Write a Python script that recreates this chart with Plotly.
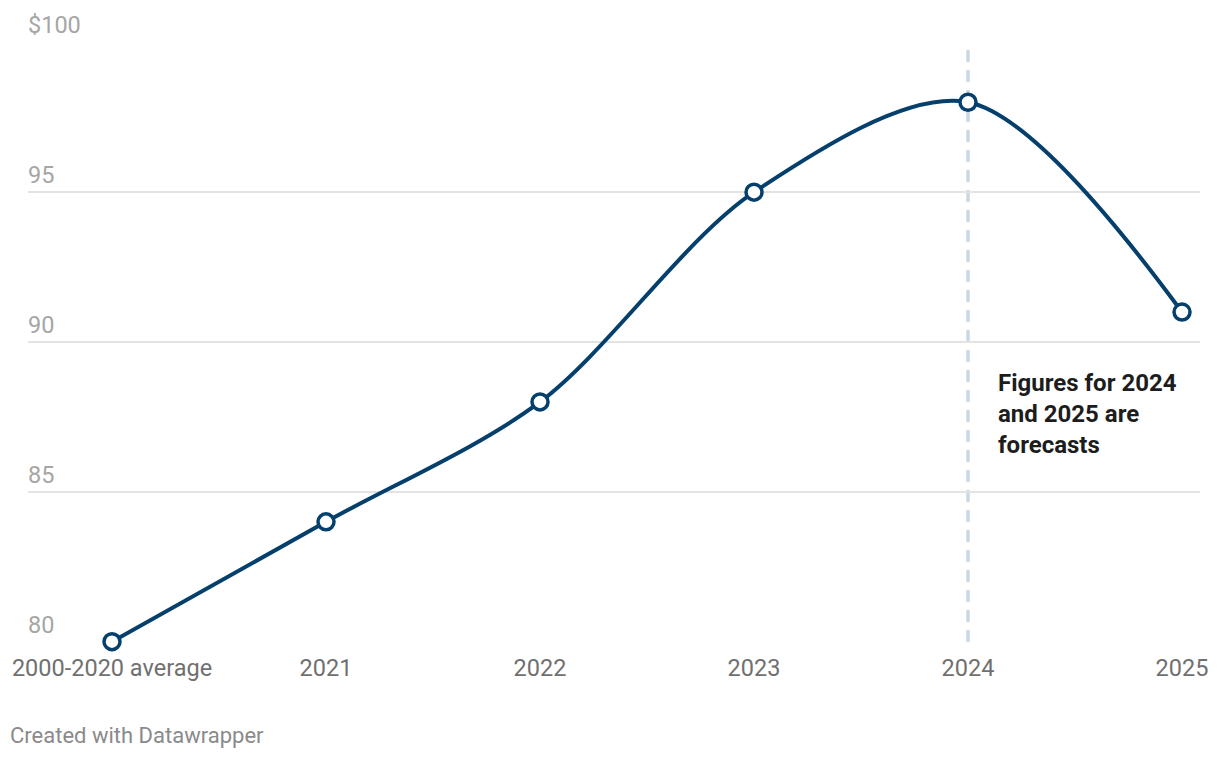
import plotly.graph_objects as go

categories = ["2000-2020 average", "2021", "2022", "2023", "2024", "2025"]
values = [80, 84, 88, 95, 98, 91]
y_ticks = [80, 85, 90, 95, 100]
y_tick_labels = ["80", "85", "90", "95", "$100"]

xs = list(range(len(categories)))

fig = go.Figure()

fig.add_trace(go.Scatter(
    x=xs, y=values,
    mode="lines+markers",
    line=dict(color="#053f6c", width=4, shape="spline", smoothing=0.9),
    marker=dict(size=16, color="white", line=dict(color="#053f6c", width=3.5)),
    cliponaxis=False,
    hoverinfo="skip",
))

# forecast divider
fig.add_shape(type="line", xref="x", yref="paper", x0=4, x1=4, y0=0, y1=1,
              line=dict(color="#c9d8e3", width=3.5, dash="12px,8px"), layer="below")

annotations = []
for v, t in zip(y_ticks, y_tick_labels):
    annotations.append(dict(
        xref="paper", yref="y", x=0, y=v, xanchor="left", yanchor="bottom",
        text=t, showarrow=False, yshift=1, xshift=-2,
        font=dict(family="Roboto", size=23.5, color="#a6a6a6")))

annotations.append(dict(
    xref="x", yref="y", x=4, y=87.6, xanchor="left", yanchor="middle", align="left",
    xshift=28, showarrow=False,
    text="<b>Figures for 2024<br>and 2025 are<br>forecasts</b>",
    font=dict(family="Roboto", size=24, color="#1d1d1d")))

annotations.append(dict(
    xref="paper", yref="paper", x=0, y=0, xanchor="left", yanchor="middle",
    xshift=-20, yshift=-93, showarrow=False,
    text="Created with Datawrapper",
    font=dict(family="Roboto", size=22, color="#8a8a8a")))

fig.update_layout(
    width=1220, height=758,
    margin=dict(l=28, r=20, t=42, b=116),
    paper_bgcolor="white", plot_bgcolor="white",
    showlegend=False,
    annotations=annotations,
    xaxis=dict(
        range=[-0.3925, 5.084], tickmode="array", tickvals=xs, ticktext=categories,
        showgrid=False, zeroline=False, showline=False, ticks="",
        tickfont=dict(family="Roboto", size=23.5, color="#707070"),
        ticklabelstandoff=9, fixedrange=True,
    ),
    yaxis=dict(
        range=[79.99, 100.01], tickvals=y_ticks, showticklabels=False,
        showgrid=True, gridcolor="#e3e3e3", gridwidth=2, zeroline=False,
        showline=False, fixedrange=True,
    ),
)

fig.write_html("out.html")
